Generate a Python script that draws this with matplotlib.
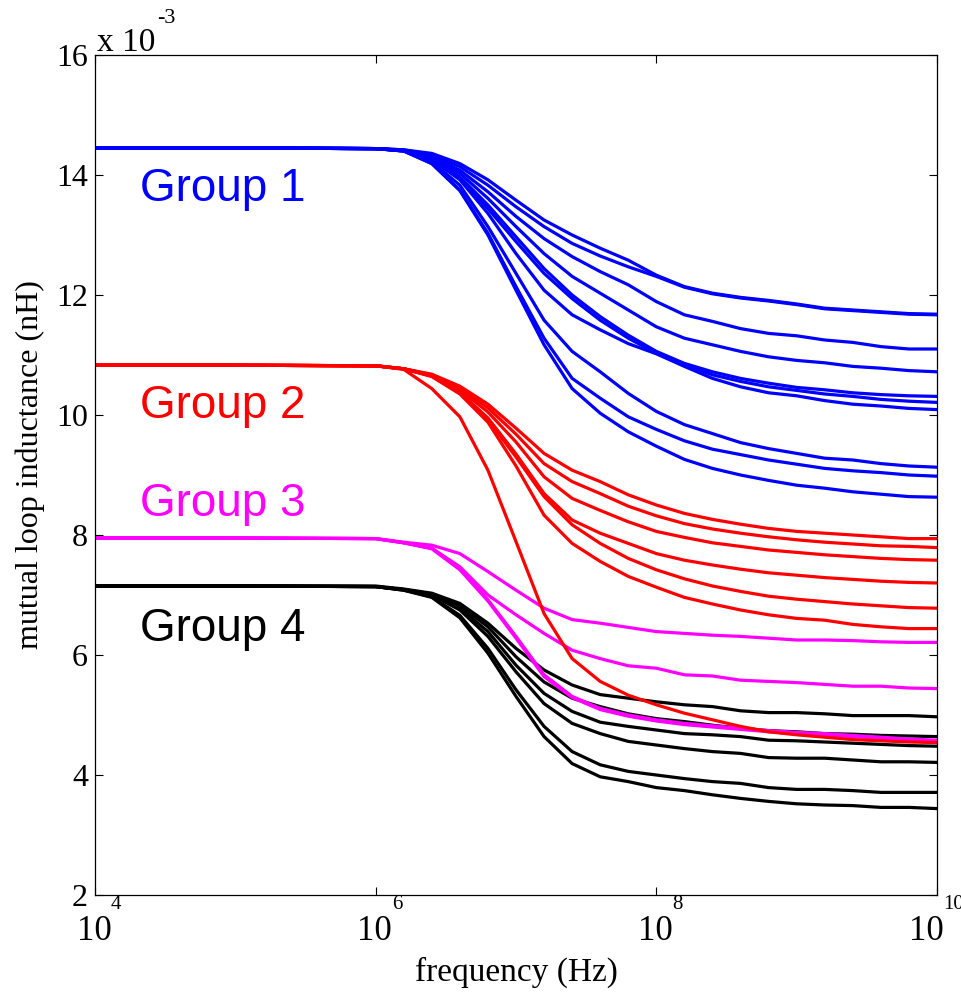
import math
import matplotlib
matplotlib.use("Agg")
import matplotlib.pyplot as plt
from matplotlib.ticker import FixedLocator, FuncFormatter, NullLocator, NullFormatter

# frequency grid (log10 of Hz)
log_freq = [4.0, 5.0, 6.0, 6.2, 6.4, 6.6, 6.8, 7.0, 7.2, 7.4, 7.6, 7.8,
            8.0, 8.2, 8.4, 8.6, 8.8, 9.0, 9.2, 9.4, 9.6, 9.8, 10.0]

# mutual loop inductance, in units of 1e-3 nH
group1 = [
    [14.45, 14.45, 14.44, 14.42, 14.36, 14.19, 13.92, 13.58, 13.25, 13.00, 12.78, 12.58, 12.33, 12.14, 12.03, 11.96, 11.91, 11.85, 11.78, 11.75, 11.72, 11.69, 11.68],
    [14.45, 14.45, 14.44, 14.42, 14.33, 14.14, 13.83, 13.47, 13.14, 12.86, 12.65, 12.47, 12.31, 12.13, 12.02, 11.95, 11.90, 11.84, 11.77, 11.74, 11.71, 11.68, 11.67],
    [14.45, 14.45, 14.44, 14.41, 14.31, 14.08, 13.72, 13.31, 12.94, 12.64, 12.39, 12.17, 11.89, 11.67, 11.56, 11.44, 11.36, 11.32, 11.25, 11.21, 11.14, 11.10, 11.10],
    [14.45, 14.45, 14.44, 14.41, 14.28, 14.03, 13.61, 13.14, 12.69, 12.31, 12.03, 11.75, 11.47, 11.28, 11.17, 11.06, 10.97, 10.91, 10.87, 10.81, 10.78, 10.74, 10.72],
    [14.45, 14.45, 14.44, 14.41, 14.26, 13.97, 13.50, 12.97, 12.44, 12.00, 11.64, 11.33, 11.06, 10.86, 10.72, 10.61, 10.53, 10.46, 10.42, 10.37, 10.34, 10.32, 10.31],
    [14.45, 14.45, 14.44, 14.41, 14.25, 13.94, 13.44, 12.89, 12.36, 11.94, 11.58, 11.28, 11.03, 10.83, 10.67, 10.56, 10.47, 10.41, 10.35, 10.31, 10.26, 10.23, 10.21],
    [14.45, 14.45, 14.44, 14.40, 14.26, 13.92, 13.36, 12.69, 12.08, 11.67, 11.42, 11.19, 11.02, 10.81, 10.61, 10.47, 10.37, 10.32, 10.24, 10.18, 10.15, 10.11, 10.09],
    [14.45, 14.45, 14.44, 14.40, 14.22, 13.83, 13.14, 12.36, 11.58, 11.06, 10.72, 10.36, 10.06, 9.84, 9.69, 9.54, 9.44, 9.36, 9.28, 9.25, 9.19, 9.15, 9.13],
    [14.45, 14.45, 14.44, 14.40, 14.19, 13.75, 13.03, 12.14, 11.28, 10.61, 10.28, 9.97, 9.76, 9.57, 9.43, 9.34, 9.25, 9.18, 9.11, 9.07, 9.04, 9.00, 8.98],
    [14.45, 14.45, 14.44, 14.40, 14.19, 13.74, 13.00, 12.08, 11.17, 10.44, 10.03, 9.72, 9.48, 9.26, 9.11, 9.00, 8.91, 8.83, 8.78, 8.72, 8.68, 8.64, 8.63],
]

group2 = [
    [10.83, 10.83, 10.82, 10.77, 10.68, 10.48, 10.18, 9.78, 9.36, 9.08, 8.89, 8.67, 8.50, 8.36, 8.26, 8.18, 8.11, 8.06, 8.03, 8.00, 7.97, 7.94, 7.94],
    [10.83, 10.83, 10.82, 10.77, 10.67, 10.45, 10.12, 9.68, 9.19, 8.89, 8.69, 8.48, 8.32, 8.19, 8.10, 8.03, 7.97, 7.92, 7.88, 7.85, 7.82, 7.81, 7.79],
    [10.83, 10.83, 10.82, 10.77, 10.66, 10.42, 10.05, 9.55, 8.97, 8.61, 8.41, 8.22, 8.06, 7.96, 7.87, 7.81, 7.75, 7.71, 7.67, 7.64, 7.61, 7.59, 7.58],
    [10.83, 10.83, 10.82, 10.77, 10.65, 10.38, 9.95, 9.35, 8.69, 8.25, 8.03, 7.86, 7.69, 7.58, 7.50, 7.43, 7.37, 7.33, 7.29, 7.26, 7.23, 7.21, 7.20],
    [10.83, 10.83, 10.82, 10.77, 10.65, 10.37, 9.92, 9.30, 8.64, 8.17, 7.86, 7.61, 7.42, 7.27, 7.15, 7.06, 6.98, 6.93, 6.89, 6.85, 6.82, 6.79, 6.78],
    [10.83, 10.83, 10.82, 10.77, 10.64, 10.35, 9.88, 9.15, 8.33, 7.86, 7.56, 7.31, 7.13, 6.96, 6.85, 6.75, 6.67, 6.61, 6.58, 6.51, 6.47, 6.44, 6.44],
    [10.83, 10.83, 10.82, 10.76, 10.44, 9.97, 9.08, 7.89, 6.69, 5.94, 5.56, 5.33, 5.17, 5.03, 4.92, 4.81, 4.72, 4.67, 4.63, 4.59, 4.57, 4.55, 4.54],
]

group3 = [
    [7.95, 7.95, 7.94, 7.88, 7.83, 7.69, 7.39, 7.08, 6.78, 6.59, 6.53, 6.46, 6.39, 6.36, 6.33, 6.31, 6.28, 6.25, 6.25, 6.24, 6.22, 6.21, 6.21],
    [7.95, 7.95, 7.94, 7.87, 7.78, 7.47, 7.00, 6.67, 6.36, 6.08, 5.94, 5.82, 5.78, 5.67, 5.65, 5.58, 5.56, 5.54, 5.51, 5.48, 5.48, 5.45, 5.44],
    [7.95, 7.95, 7.94, 7.87, 7.78, 7.44, 6.92, 6.31, 5.67, 5.31, 5.11, 5.00, 4.92, 4.86, 4.82, 4.78, 4.74, 4.71, 4.69, 4.66, 4.63, 4.60, 4.58],
    [7.95, 7.95, 7.94, 7.87, 7.77, 7.42, 6.90, 6.28, 5.64, 5.29, 5.09, 4.98, 4.90, 4.84, 4.80, 4.76, 4.72, 4.69, 4.67, 4.64, 4.61, 4.58, 4.56],
]

group4 = [
    [7.15, 7.15, 7.15, 7.10, 7.03, 6.86, 6.53, 6.11, 5.75, 5.50, 5.34, 5.28, 5.22, 5.17, 5.14, 5.07, 5.04, 5.04, 5.02, 4.99, 4.99, 4.99, 4.97],
    [7.15, 7.15, 7.14, 7.09, 7.02, 6.82, 6.47, 5.97, 5.55, 5.28, 5.14, 5.02, 4.94, 4.89, 4.83, 4.78, 4.74, 4.72, 4.69, 4.68, 4.66, 4.65, 4.64],
    [7.15, 7.15, 7.14, 7.09, 7.01, 6.78, 6.39, 5.83, 5.36, 5.06, 4.88, 4.81, 4.75, 4.69, 4.67, 4.64, 4.58, 4.57, 4.55, 4.53, 4.51, 4.49, 4.48],
    [7.15, 7.15, 7.14, 7.09, 7.00, 6.75, 6.31, 5.72, 5.19, 4.86, 4.69, 4.56, 4.50, 4.44, 4.39, 4.36, 4.29, 4.28, 4.28, 4.25, 4.22, 4.22, 4.21],
    [7.15, 7.15, 7.14, 7.08, 6.97, 6.66, 6.11, 5.42, 4.81, 4.39, 4.17, 4.06, 4.00, 3.94, 3.89, 3.86, 3.79, 3.76, 3.76, 3.74, 3.71, 3.71, 3.71],
    [7.15, 7.15, 7.14, 7.08, 6.96, 6.62, 6.03, 5.31, 4.64, 4.19, 3.97, 3.89, 3.79, 3.74, 3.67, 3.61, 3.56, 3.52, 3.50, 3.49, 3.46, 3.46, 3.44],
]

group_names = ["Group 1", "Group 2", "Group 3", "Group 4"]
group_colors = ["#0000ff", "#ff0000", "#ff00ff", "#000000"]
label_y = [13.57, 9.95, 8.32, 6.23]

x_ticks = [1e4, 1e6, 1e8, 1e10]
y_ticks = [2, 4, 6, 8, 10, 12, 14, 16]

scale = 1e-3
freq = [10.0 ** e for e in log_freq]

serif = "Liberation Serif"
sans = "Liberation Sans"
PX = 72 / 100  # points per pixel at 100 dpi

fig = plt.figure(figsize=(9.62, 9.93), dpi=100)
ax = fig.add_axes([95 / 962, 98 / 993, 842 / 962, 840 / 993])

groups = [group1, group2, group3, group4]
for curves, color in reversed(list(zip(groups, group_colors))):
    for ys in curves:
        ax.plot(freq, [v * scale for v in ys], color=color, lw=2.3,
                solid_joinstyle="miter")

ax.set_xscale("log")
ax.set_xlim(1e4, 1e10)
ax.set_ylim(2 * scale, 16 * scale)

ax.xaxis.set_major_locator(FixedLocator(x_ticks))
ax.xaxis.set_minor_locator(NullLocator())
ax.xaxis.set_major_formatter(NullFormatter())
ax.yaxis.set_major_locator(FixedLocator([t * scale for t in y_ticks]))
ax.yaxis.set_major_formatter(FuncFormatter(lambda v, p: "%d" % round(v / scale)))

ax.tick_params(which="both", direction="in", top=True, right=True,
               length=6, width=0.8, labelsize=23, pad=5)
for lab in ax.get_yticklabels():
    lab.set_fontfamily(serif)
for sp in ax.spines.values():
    sp.set_linewidth(0.9)

# decade tick labels: base "10" with a raised exponent, the pair centred on the tick
for t in x_ticks:
    exp_txt = "%d" % round(math.log10(t))
    shift = -10 if len(exp_txt) > 1 else 0
    ax.annotate("10", xy=(t, 0), xycoords=("data", "axes fraction"),
                xytext=((shift - 1) * PX, -20 * PX), textcoords="offset points",
                ha="center", va="top", fontsize=25, fontfamily=serif,
                annotation_clip=False)
    ax.annotate(exp_txt, xy=(t, 0), xycoords=("data", "axes fraction"),
                xytext=((shift + 16) * PX, -19 * PX), textcoords="offset points",
                ha="left", va="bottom", fontsize=15, fontfamily=serif,
                annotation_clip=False)

fig.text(516 / 962, 1 - 972 / 993, "frequency (Hz)", fontsize=24,
         fontfamily=serif, ha="center", va="center")
fig.text(30 / 962, 1 - 465 / 993, "mutual loop inductance (nH)", fontsize=23,
         fontfamily=serif, rotation=90, ha="center", va="center")

# multiplier shown above the y axis
fig.text(97 / 962, 1 - 51 / 993, "x 10", fontsize=24, fontfamily=serif,
         ha="left", va="baseline")
fig.text(157 / 962, 1 - 23 / 993, "-3", fontsize=16, fontfamily=serif,
         ha="left", va="baseline")

for name, color, yl in zip(group_names, group_colors, label_y):
    ax.text(10 ** 4.32, yl * scale, name, color=color, fontsize=33,
            fontfamily=sans, ha="left", va="baseline")

fig.savefig("out.png", dpi=100)
